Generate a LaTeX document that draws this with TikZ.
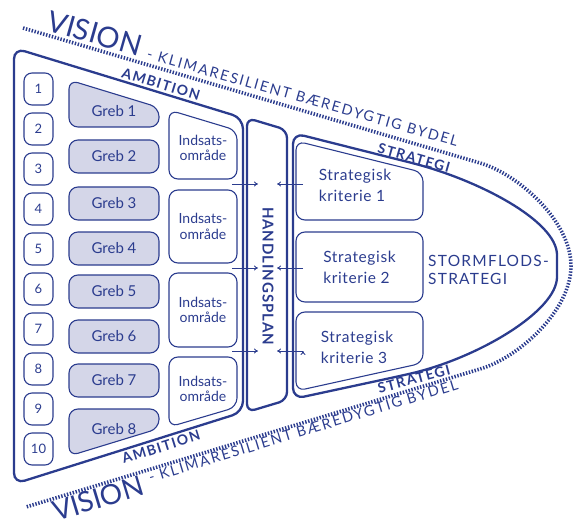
\documentclass[tikz,border=0pt]{standalone}
\usepackage{fontspec}
\setmainfont{Lato}
\usetikzlibrary{arrows.meta,positioning}
\definecolor{planblue}{RGB}{43,60,142}
\definecolor{grebgray}{RGB}{212,214,232}

\begin{document}
\begin{tikzpicture}[x=1bp, y=-1bp, >={To[length=4bp, width=5bp]}, node distance=40bp,
    every node/.style={text=planblue, inner sep=0pt},
    frame/.style={draw=planblue, line width=2.3bp, rounded corners=11bp},
    box/.style={draw=planblue, line width=1.1bp, rounded corners=9bp},
    numbox/.style={box, rounded corners=8bp, minimum width=29bp, minimum height=32bp, font=\fontsize{13bp}{15bp}\selectfont},
    grebbox/.style={box, fill=grebgray, minimum width=90bp, minimum height=33bp, font=\fontsize{15bp}{17bp}\selectfont},
    grebtext/.style={font=\fontsize{15bp}{17bp}\selectfont},
    areatext/.style={align=center, font=\fontsize{14bp}{15.5bp}\selectfont},
    crittext/.style={align=left, font=\fontsize{15.5bp}{21bp}\selectfont\addfontfeature{LetterSpace=4}},
    tag/.style={font=\fontsize{14bp}{14bp}\selectfont\bfseries\addfontfeature{LetterSpace=10}},
    visionline/.style={draw=planblue, line width=3.6bp, dash pattern=on 1.4bp off 1.6bp}]
    \useasboundingbox (0,0) rectangle (582,526);

    % vision
    \draw[visionline] (23,28) -- (480,163) .. controls (518,174) and (571,221) .. (571,266)
        .. controls (571,311) and (518,358) .. (480,369) -- (26,507);
    \node[anchor=base west, rotate=-15.8] (VISIONTOP) at (45,30) {{\fontsize{29bp}{29bp}\selectfont VISION}\hspace{8bp}{\fontsize{14.5bp}{15bp}\selectfont\addfontfeature{LetterSpace=13}- KLIMARESILIENT BÆREDYGTIG BYDEL}};
    \node[anchor=north west, rotate=16.9] (VISIONBOT) at (50,502) {\raisebox{-9.7bp}{\fontsize{28bp}{28bp}\selectfont VISION}\hspace{8bp}{\fontsize{14.5bp}{15bp}\selectfont\addfontfeature{LetterSpace=13}- KLIMARESILIENT BÆREDYGTIG BYDEL}};

    % ambition
    \draw[frame] (14,48) -- (243,118) -- (243,412) -- (14,484) -- cycle;
    \node[tag, rotate=-17] (AMBTOP) at (161,84) {AMBITION};
    \node[tag, rotate=17.4] (AMBBOT) at (161,447) {AMBITION};

    \node[numbox] (N1) at (38.5,89) {1};
    \node[numbox] (N2) [below of=N1] {2};
    \node[numbox] (N3) [below of=N2] {3};
    \node[numbox] (N4) [below of=N3] {4};
    \node[numbox] (N5) [below of=N4] {5};
    \node[numbox] (N6) [below of=N5] {6};
    \node[numbox] (N7) [below of=N6] {7};
    \node[numbox] (N8) [below of=N7] {8};
    \node[numbox] (N9) [below of=N8] {9};
    \node[numbox] (N10) [below of=N9] {10};

    \draw[box, fill=grebgray] (69,80) -- (159,107.5) -- (159,127) -- (69,127) -- cycle;
    \node[grebtext] (G1) at (114,111) {Greb 1};
    \node[grebbox] (G2) at (114,156.5) {Greb 2};
    \node[grebbox] (G3) at (114,203.5) {Greb 3};
    \node[grebbox] (G4) at (114,248.5) {Greb 4};
    \node[grebbox] (G5) at (114,291.5) {Greb 5};
    \node[grebbox] (G6) at (114,336.5) {Greb 6};
    \node[grebbox] (G7) at (114,380.5) {Greb 7};
    \draw[box, fill=grebgray] (69,409) -- (159,409) -- (159,428.5) -- (69,456) -- cycle;
    \node[grebtext] (G8) at (114,429) {Greb 8};

    \draw[box] (169,110) -- (237,130.5) -- (237,179) -- (169,179) -- cycle;
    \node[areatext] (I1) at (203,148) {Indsats-\\område};
    \node[box, areatext, minimum width=68bp, minimum height=73bp] (I2) at (203,226.5) {Indsats-\\område};
    \node[box, areatext, minimum width=68bp, minimum height=74bp] (I3) at (203,310) {Indsats-\\område};
    \draw[box] (169,357) -- (237,357) -- (237,407) -- (169,427) -- cycle;
    \node[areatext] (I4) at (203,389) {Indsats-\\område};

    % handlingsplan
    \draw[frame, rounded corners=8bp] (247,118) -- (287,130) -- (287,400) -- (247,412) -- cycle;
    \node[rotate=-90, font=\fontsize{15bp}{15bp}\selectfont\bfseries\addfontfeature{LetterSpace=6}] (HP) at (268,276) {HANDLINGSPLAN};

    % strategi
    \draw[frame] (293,266) -- (293,133) -- (400,160) .. controls (478,179.5) and (557,221) .. (557,266)
        .. controls (557,311) and (478,358) .. (400,376) -- (293,399) -- cycle;
    \node[tag, rotate=-16] (STRTOP) at (414,158) {STRATEGI};
    \node[tag, rotate=15] (STRBOT) at (414,379) {STRATEGI};

    \draw[box] (296,141) -- (423,172.5) -- (423,220) -- (296,220) -- cycle;
    \node[crittext] (K1) at (355,185.5) {Strategisk\\kriterie 1};
    \node[box, crittext, minimum width=127bp, minimum height=70bp] (K2) at (359.5,267) {Strategisk\\kriterie 2};
    \draw[box] (296,312) -- (423,312) -- (423,363) -- (296,391) -- cycle;
    \node[crittext] (K3) at (357,347) {Strategisk\\kriterie 3};

    \node[anchor=west, align=left, font=\fontsize{15.5bp}{18bp}\selectfont\addfontfeature{LetterSpace=8}] (STORM) at (428,270) {STORMFLODS-\\STRATEGI};

    % pile
    \coordinate (IN1) at (232,184);  \coordinate (HPIN1) at (258,184);
    \coordinate (IN2) at (232,268);  \coordinate (HPIN2) at (258,268);
    \coordinate (IN3) at (232,351);  \coordinate (HPIN3) at (258,351);
    \coordinate (OUT1) at (303,184); \coordinate (HPOUT1) at (277,184);
    \coordinate (OUT2) at (303,268); \coordinate (HPOUT2) at (277,268);
    \coordinate (OUT3) at (303,351); \coordinate (HPOUT3) at (277,351);
    \path[->, draw=planblue, line width=0.9bp]
        (IN1) edge (HPIN1) (IN2) edge (HPIN2) (IN3) edge (HPIN3)
        (OUT1) edge (HPOUT1) (OUT2) edge (HPOUT2) (OUT3) edge (HPOUT3);
\end{tikzpicture}
\end{document}
